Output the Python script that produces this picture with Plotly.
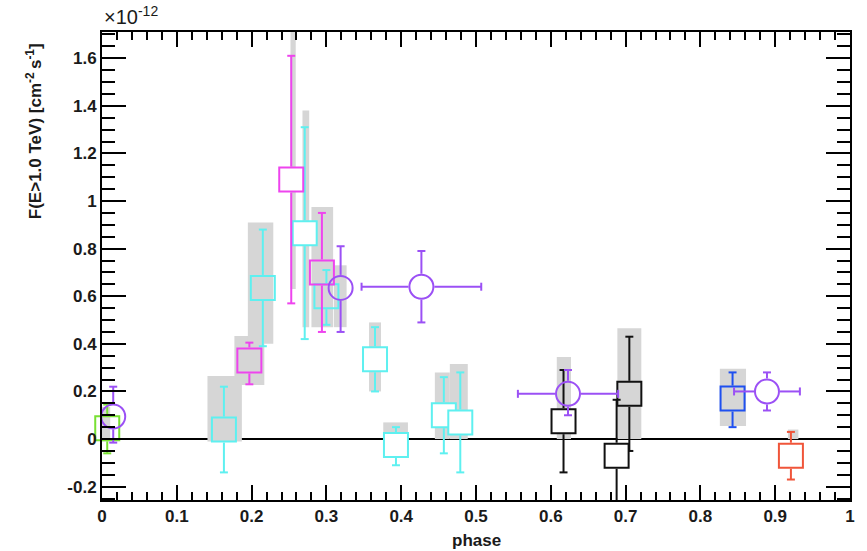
import plotly.graph_objects as go

# ---- phase-resolved flux points (units of 1e-12 cm^-2 s^-1) ----
# green
green_phase = [0.007]
green_flux = [0.045]
green_up = [0.10]
green_dn = [0.105]

# cyan
cyan_phase = [0.163, 0.215, 0.271, 0.300, 0.365, 0.393, 0.457, 0.479]
cyan_flux = [0.04, 0.635, 0.865, 0.60, 0.335, -0.025, 0.10, 0.07]
cyan_up = [0.18, 0.245, 0.445, 0.11, 0.135, 0.075, 0.16, 0.21]
cyan_dn = [0.18, 0.245, 0.445, 0.12, 0.135, 0.085, 0.16, 0.21]

# magenta
magenta_phase = [0.197, 0.253, 0.294]
magenta_flux = [0.33, 1.09, 0.70]
magenta_up = [0.075, 0.52, 0.25]
magenta_dn = [0.10, 0.52, 0.25]

# black
black_phase = [0.617, 0.688, 0.705]
black_flux = [0.075, -0.07, 0.19]
black_up = [0.215, 0.235, 0.24]
black_dn = [0.215, 0.25, 0.24]

# blue
blue_phase = [0.843]
blue_flux = [0.17]
blue_up = [0.11]
blue_dn = [0.12]

# red
red_phase = [0.921]
red_flux = [-0.07]
red_up = [0.10]
red_dn = [0.10]

# violet (phase-binned, with phase extent)
violet_phase = [0.015, 0.319, 0.427, 0.623, 0.889]
violet_flux = [0.095, 0.635, 0.64, 0.19, 0.20]
violet_up = [0.125, 0.175, 0.15, 0.10, 0.08]
violet_dn = [0.11, 0.185, 0.15, 0.09, 0.08]
violet_xerr = [0.0, 0.0, 0.08, 0.067, 0.044]

# systematic uncertainty boxes: phase range and flux range
sys_phase_lo = [0.000, 0.141, 0.177, 0.195, 0.252, 0.268, 0.280, 0.310, 0.357,
                0.376, 0.445, 0.465, 0.608, 0.689, 0.826, 0.917]
sys_phase_hi = [0.011, 0.187, 0.217, 0.229, 0.259, 0.277, 0.309, 0.327, 0.373,
                0.409, 0.465, 0.489, 0.627, 0.721, 0.861, 0.931]
sys_flux_lo = [-0.01, -0.01, 0.227, 0.40, 0.63, 0.47, 0.47, 0.47, 0.20,
               0.0, 0.0, 0.0, 0.0, 0.0, 0.055, 0.0]
sys_flux_hi = [0.135, 0.265, 0.433, 0.91, 1.75, 1.38, 0.975, 0.73, 0.49,
               0.07, 0.28, 0.315, 0.345, 0.465, 0.295, 0.04]

# axis ticks
x_ticks = [0, 0.1, 0.2, 0.3, 0.4, 0.5, 0.6, 0.7, 0.8, 0.9, 1.0]
x_tick_labels = ["0", "0.1", "0.2", "0.3", "0.4", "0.5", "0.6", "0.7", "0.8", "0.9", "1"]
y_ticks = [-0.2, 0, 0.2, 0.4, 0.6, 0.8, 1.0, 1.2, 1.4, 1.6]
y_tick_labels = ["-0.2", "0", "0.2", "0.4", "0.6", "0.8", "1", "1.2", "1.4", "1.6"]

# ---- layout geometry ----
W, H = 867, 551
M_L, M_R, M_T, M_B = 102, 15, 32, 51
X_RANGE = [0.0, 1.0]
Y_RANGE = [-0.256, 1.71]
PLOT_W = W - M_L - M_R
PLOT_H = H - M_T - M_B
DX = (X_RANGE[1] - X_RANGE[0]) / PLOT_W  # data units per pixel
DY = (Y_RANGE[1] - Y_RANGE[0]) / PLOT_H

MARKER = 24
GAP_PX = MARKER / 2 + 1
CAP_PX = 4

FONT = "Liberation Sans, Arial, sans-serif"
INK = "#1a1a1a"


def error_segments(xs, ys, ups, dns, xerrs=None):
    """ROOT-style error bars: stop at the marker edge, small end caps."""
    px, py = [], []
    gy, gx = GAP_PX * DY, GAP_PX * DX
    cx, cy = CAP_PX * DX, CAP_PX * DY
    for i, (x, y, u, d) in enumerate(zip(xs, ys, ups, dns)):
        if u > gy:
            px += [x, x, None, x - cx, x + cx, None]
            py += [y + gy, y + u, None, y + u, y + u, None]
        if d > gy:
            px += [x, x, None, x - cx, x + cx, None]
            py += [y - gy, y - d, None, y - d, y - d, None]
        if xerrs is not None and xerrs[i] > gx:
            e = xerrs[i]
            px += [x + gx, x + e, None, x + e, x + e, None,
                   x - gx, x - e, None, x - e, x - e, None]
            py += [y, y, None, y - cy, y + cy, None,
                   y, y, None, y - cy, y + cy, None]
    return px, py


fig = go.Figure()

# zero line first, then the systematic boxes on top of it
shapes = [dict(type="line", xref="x", yref="y", x0=0, x1=1, y0=0, y1=0,
               line=dict(color="black", width=2), layer="below")]
for x0, x1, y0, y1 in zip(sys_phase_lo, sys_phase_hi, sys_flux_lo, sys_flux_hi):
    shapes.append(dict(type="rect", xref="x", yref="y", x0=x0, x1=x1, y0=y0, y1=y1,
                       fillcolor="#d6d6d6", line=dict(width=0), layer="below"))

CLEAR = "rgba(0,0,0,0)"


def add_series(xs, ys, ups, dns, color, symbol, filled, xerrs=None):
    ex, ey = error_segments(xs, ys, ups, dns, xerrs)
    fig.add_trace(go.Scatter(x=ex, y=ey, mode="lines",
                             line=dict(color=color, width=2),
                             hoverinfo="skip", showlegend=False))
    fig.add_trace(go.Scatter(
        x=xs, y=ys, mode="markers", showlegend=False, cliponaxis=False,
        marker=dict(symbol=symbol, size=MARKER,
                    color=["white" if f else CLEAR for f in filled],
                    line=dict(color=color, width=2))))


add_series(green_phase, green_flux, green_up, green_dn, "#78e032", "square", [False])
add_series(cyan_phase, cyan_flux, cyan_up, cyan_dn, "#5ef0f0", "square",
           [False, False, True, False, True, True, True, True])
add_series(magenta_phase, magenta_flux, magenta_up, magenta_dn, "#ee44ee", "square",
           [False, True, False])
add_series(black_phase, black_flux, black_up, black_dn, "#111111", "square",
           [True, True, False])
add_series(blue_phase, blue_flux, blue_up, blue_dn, "#1f50f0", "square", [False])
add_series(red_phase, red_flux, red_up, red_dn, "#f0553a", "square", [True])
add_series(violet_phase, violet_flux, violet_up, violet_dn, "#9b50f5", "circle",
           [False, False, True, False, True], violet_xerr)

axis_common = dict(
    showline=True, linecolor="black", linewidth=2, mirror="allticks",
    ticks="inside", tickcolor="black", tickwidth=2,
    showgrid=False, zeroline=False,
    tickfont=dict(family=FONT, size=17, color=INK, weight="bold"),
)

fig.update_xaxes(range=X_RANGE, tickmode="array", tickvals=x_ticks,
                 ticktext=x_tick_labels, ticklen=15,
                 minor=dict(ticks="inside", ticklen=8, tickwidth=2,
                            tickcolor="black", dtick=0.02, tick0=0, showgrid=False),
                 **axis_common)
fig.update_yaxes(range=Y_RANGE, tickmode="array", tickvals=y_ticks,
                 ticktext=y_tick_labels, ticklen=24,
                 minor=dict(ticks="inside", ticklen=13, tickwidth=2,
                            tickcolor="black", dtick=0.05, tick0=0, showgrid=False),
                 **axis_common)

annotations = [
    dict(text="F(E>1.0 TeV) [cm<sup>-2 </sup>s<sup>-1</sup>]", textangle=-90,
         xref="paper", yref="paper",
         x=(34 - M_L) / PLOT_W, y=(H - M_B - 131) / PLOT_H,
         xanchor="center", yanchor="middle", showarrow=False,
         font=dict(family=FONT, size=17, color=INK, weight="bold")),
    dict(text="phase", xref="paper", yref="paper",
         x=(478 - M_L) / PLOT_W, y=(H - M_B - 540) / PLOT_H,
         xanchor="center", yanchor="middle", showarrow=False,
         font=dict(family=FONT, size=17, color=INK, weight="bold")),
    dict(text="\u00d710<sup>-12</sup>", xref="paper", yref="paper",
         x=0, y=(H - M_B - 16) / PLOT_H,
         xanchor="left", yanchor="middle", showarrow=False,
         font=dict(family=FONT, size=20, color=INK)),
]

fig.update_layout(
    width=W, height=H,
    margin=dict(l=M_L, r=M_R, t=M_T, b=M_B, pad=0),
    paper_bgcolor="white", plot_bgcolor="white",
    shapes=shapes, annotations=annotations,
    showlegend=False,
)

fig.write_html("out.html")
